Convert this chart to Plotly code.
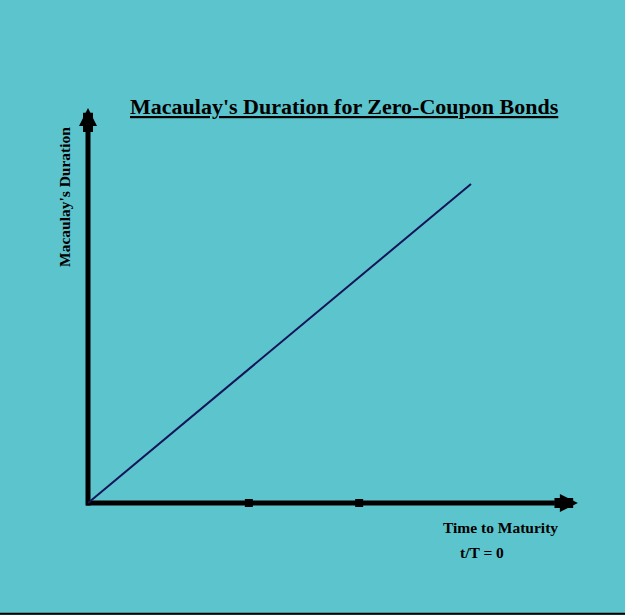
import plotly.graph_objects as go

# duration of a zero-coupon bond equals its time to maturity
maturity = [0, 10]
duration = [0, 10]

# the two small tick marks on the time axis
tick_x = [4.2, 7.08]
tick_y = [0, 0]

bg = "#5CC4CC"
serif = "Liberation Serif, Times New Roman, serif"

# axis ranges chosen so the origin sits at the lower left like the original
x_range = [-2.298, 14.021]
y_range = [-3.511, 15.768]
x_end = 12.79
y_end = 12.38

fig = go.Figure()

# axes drawn as thick black lines
fig.add_trace(go.Scatter(x=[-0.05, x_end - 0.6], y=[0, 0], mode="lines",
                         line=dict(color="black", width=5), hoverinfo="skip"))
fig.add_trace(go.Scatter(x=[0, 0], y=[-0.08, y_end - 0.5], mode="lines",
                         line=dict(color="black", width=5), hoverinfo="skip"))

fig.add_trace(go.Scatter(x=maturity, y=duration, mode="lines",
                         line=dict(color="#14145A", width=2)))
fig.add_trace(go.Scatter(x=tick_x, y=tick_y, mode="markers",
                         marker=dict(symbol="square", size=8, color="black")))

fig.update_layout(
    width=625, height=615,
    margin=dict(l=0, r=0, t=0, b=0),
    paper_bgcolor=bg, plot_bgcolor=bg,
    showlegend=False,
    xaxis=dict(range=x_range, visible=False, fixedrange=True),
    yaxis=dict(range=y_range, visible=False, fixedrange=True),
)

# arrow heads
fig.add_annotation(x=x_end, y=0, ax=x_end - 0.65, ay=0, xref="x", yref="y",
                   axref="x", ayref="y", text="", showarrow=True, arrowhead=2,
                   arrowwidth=10, arrowsize=0.36, arrowcolor="black")
fig.add_annotation(x=0, y=y_end, ax=0, ay=y_end - 0.8, xref="x", yref="y",
                   axref="x", ayref="y", text="", showarrow=True, arrowhead=2,
                   arrowwidth=10, arrowsize=0.36, arrowcolor="black")

# texts (pixel positions converted to paper fractions)
def label(px, py, text, size, angle=0):
    fig.add_annotation(x=px / 625, y=1 - py / 615, xref="paper", yref="paper",
                       xanchor="center", yanchor="middle", text=text,
                       textangle=angle, showarrow=False,
                       font=dict(family=serif, size=size, color="black"))

label(344, 107, "<b><u>Macaulay's Duration for Zero-Coupon Bonds</u></b>", 22)
label(64, 197, "<b>Macaulay's Duration</b>", 15.5, angle=-90)
label(500, 527, "<b>Time to Maturity</b>", 15.5)
label(482, 552, "<b>t/T = 0</b>", 15.5)

# thin border along the bottom
fig.add_shape(type="line", xref="paper", yref="paper", x0=0, x1=1, y0=0.002, y1=0.002,
              line=dict(color="black", width=2))

fig.write_html("out.html", config={"displayModeBar": False},
               post_script="document.body.style.margin='0';")
